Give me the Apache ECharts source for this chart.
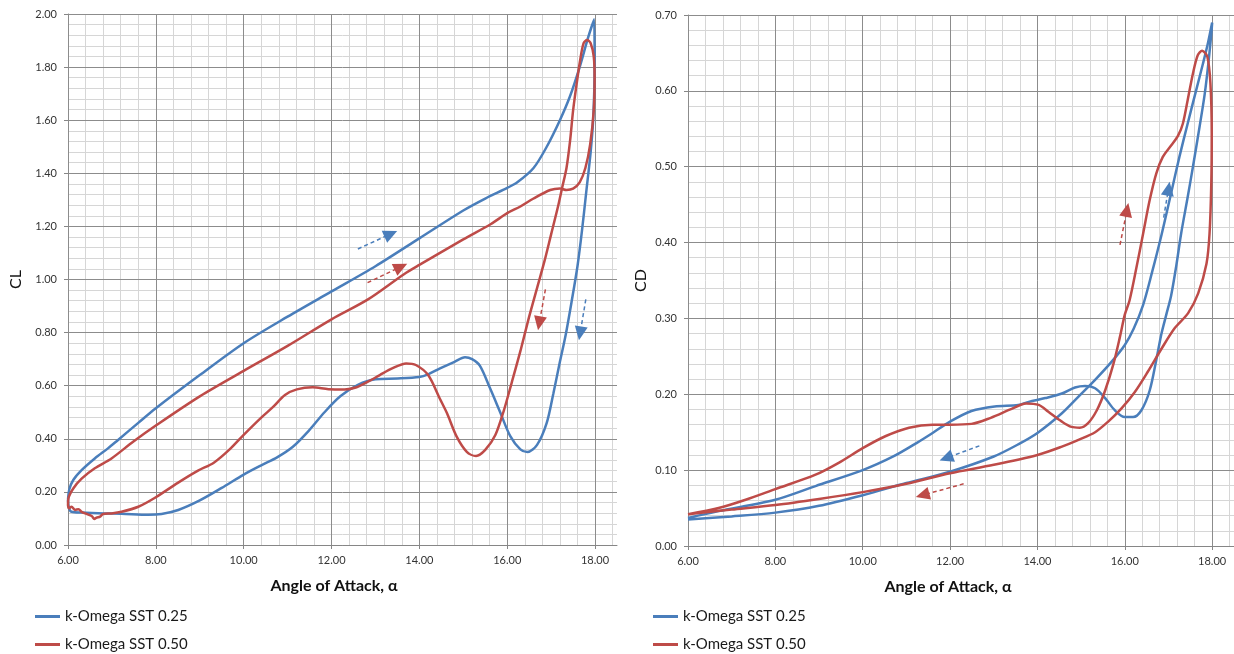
<!DOCTYPE html>
<html><head><meta charset="utf-8">
<script src="https://cdn.jsdelivr.net/npm/echarts@6/dist/echarts.min.js"></script>
<style>html,body{margin:0;padding:0;background:#fff}#c{width:1234px;height:654px}</style>
</head><body><div id="c"></div>
<script>
const seriesNames = ['k-Omega SST 0.25', 'k-Omega SST 0.50'];

// CL loops (angle of attack, CL)
const clSST025 = [[6.0,0.17],[6.03,0.21],[6.12,0.245],[6.31,0.282],[6.61,0.326],[6.91,0.364],[7.1,0.39],[7.6,0.46],[8.0,0.515],[9.0,0.64],[10.0,0.76],[11.0,0.86],[12.0,0.955],[13.0,1.05],[14.0,1.155],[15.0,1.26],[15.5,1.305],[16.0,1.345],[16.23,1.366],[16.6,1.42],[16.9,1.50],[17.2,1.60],[17.43,1.69],[17.65,1.80],[17.84,1.91],[17.98,1.98],
  [17.99,1.80],[17.96,1.61],[17.9,1.48],[17.8,1.33],[17.7,1.18],[17.6,1.05],[17.47,0.92],[17.33,0.79],[17.2,0.69],[17.05,0.57],[16.9,0.46],[16.68,0.377],[16.46,0.35],[16.3,0.36],[16.07,0.41],[15.84,0.50],[15.61,0.59],[15.38,0.675],[15.2,0.70],[15.04,0.707],[14.8,0.69],[14.47,0.665],[14.2,0.643],[14.0,0.633],[13.5,0.627],[13.0,0.624],[12.6,0.603],[12.2,0.56],[11.84,0.50],[11.48,0.43],[11.12,0.37],[10.76,0.33],[10.4,0.30],[10.0,0.265],[9.5,0.215],[9.0,0.168],[8.51,0.132],[8.13,0.117],[7.83,0.114],[7.22,0.118],[6.84,0.119],[6.31,0.122],[6.08,0.125],[6.02,0.14],[6.0,0.17]];
const clSST050 = [[6.0,0.15],[6.01,0.176],[6.12,0.213],[6.31,0.25],[6.61,0.289],[6.99,0.326],[7.49,0.39],[8.0,0.45],[9.0,0.56],[10.0,0.656],[11.0,0.75],[12.0,0.85],[12.83,0.925],[13.65,1.02],[14.0,1.055],[15.0,1.151],[15.63,1.209],[16.0,1.25],[16.3,1.275],[16.6,1.305],[16.98,1.337],[17.2,1.343],[17.35,1.337],[17.5,1.342],[17.65,1.366],[17.78,1.42],[17.89,1.51],[17.97,1.636],[17.99,1.76],[17.97,1.84],[17.9,1.89],[17.82,1.902],[17.74,1.89],[17.66,1.825],[17.58,1.736],[17.5,1.636],[17.43,1.52],[17.35,1.42],[17.25,1.345],[17.15,1.27],[17.0,1.17],[16.85,1.07],[16.7,0.98],[16.5,0.86],[16.3,0.73],[16.1,0.61],[15.93,0.51],[15.73,0.414],[15.5,0.358],[15.29,0.335],[15.08,0.351],[14.85,0.408],[14.63,0.496],[14.47,0.55],[14.2,0.64],[13.92,0.678],[13.7,0.684],[13.38,0.665],[13.1,0.64],[12.83,0.615],[12.57,0.594],[12.3,0.586],[11.93,0.587],[11.57,0.594],[11.21,0.586],[10.94,0.565],[10.67,0.52],[10.4,0.48],[10.0,0.415],[9.68,0.36],[9.32,0.31],[8.96,0.28],[8.5,0.234],[8.0,0.18],[7.6,0.144],[7.22,0.125],[6.99,0.119],[6.8,0.117],[6.73,0.107],[6.65,0.103],[6.6,0.098],[6.54,0.109],[6.42,0.117],[6.31,0.125],[6.24,0.135],[6.16,0.132],[6.08,0.144],[6.02,0.138],[6.0,0.15]];

// CD loops (angle of attack, CD)
const cdSST025 = [[6.0,0.035],[7.0,0.039],[8.0,0.044],[9.0,0.053],[10.0,0.067],[11.0,0.083],[12.0,0.098],[13.0,0.118],[13.56,0.134],[14.0,0.149],[14.56,0.175],[14.94,0.197],[15.32,0.219],[15.7,0.243],[16.0,0.265],[16.2,0.286],[16.42,0.318],[16.62,0.36],[16.84,0.41],[17.06,0.465],[17.25,0.513],[17.44,0.557],[17.63,0.60],[17.79,0.636],[17.9,0.662],[18.0,0.69],
  [17.98,0.675],[17.92,0.64],[17.83,0.596],[17.71,0.552],[17.56,0.50],[17.44,0.46],[17.29,0.412],[17.18,0.37],[17.06,0.33],[16.95,0.305],[16.84,0.28],[16.72,0.245],[16.57,0.205],[16.38,0.179],[16.19,0.17],[16.0,0.17],[15.77,0.179],[15.55,0.195],[15.32,0.208],[15.09,0.211],[14.86,0.209],[14.56,0.201],[14.18,0.195],[13.8,0.19],[13.56,0.186],[13.02,0.184],[12.49,0.178],[12.0,0.164],[11.6,0.149],[11.24,0.136],[10.7,0.118],[10.0,0.10],[8.92,0.079],[8.0,0.061],[6.7,0.046],[6.0,0.037]];
const cdSST050 = [[6.0,0.042],[7.0,0.048],[8.0,0.054],[9.0,0.062],[10.0,0.071],[11.0,0.082],[12.0,0.096],[13.0,0.107],[14.0,0.12],[14.56,0.131],[14.94,0.14],[15.32,0.15],[15.62,0.164],[15.92,0.181],[16.23,0.203],[16.53,0.23],[16.84,0.26],[17.14,0.287],[17.45,0.307],[17.68,0.333],[17.87,0.372],[17.94,0.412],[17.98,0.478],[17.99,0.544],[17.96,0.61],[17.89,0.645],[17.77,0.653],[17.67,0.647],[17.56,0.623],[17.44,0.588],[17.33,0.557],[17.22,0.541],[17.06,0.528],[16.87,0.513],[16.72,0.491],[16.57,0.456],[16.42,0.412],[16.27,0.368],[16.11,0.324],[16.0,0.305],[15.89,0.276],[15.74,0.24],[15.55,0.205],[15.36,0.179],[15.16,0.162],[14.97,0.156],[14.78,0.157],[14.56,0.164],[14.25,0.177],[14.03,0.186],[13.74,0.188],[13.38,0.18],[12.93,0.169],[12.49,0.161],[12.0,0.16],[11.6,0.16],[11.06,0.156],[10.53,0.145],[10.0,0.129],[9.46,0.11],[8.92,0.094],[8.0,0.075],[7.32,0.061],[6.7,0.05],[6.0,0.042]];

// direction arrows: [from, to] in data coordinates
const arrowsCL025 = [[[12.6,1.115],[13.35,1.172]], [[17.79,0.925],[17.66,0.797]]];
const arrowsCL050 = [[[12.82,0.988],[13.58,1.048]], [[16.87,0.963],[16.73,0.835]]];
const arrowsCD025 = [[[16.89,0.433],[17.0,0.471]], [[12.67,0.132],[11.91,0.116]]];
const arrowsCD050 = [[[15.89,0.397],[16.05,0.443]], [[12.31,0.082],[11.37,0.067]]];

const xTitle = 'Angle of Attack, α';
const yTitles = ['CL', 'CD'];

const BLUE = '#4a7ebb', RED = '#be4b48';
const MAJOR = '#8c8c8c', MINOR = '#d6d6d6', AXIS = '#868686';
const FONT = 'Lato';

function xAxes(gridIndex, padRight) {
  return [{
    gridIndex, type: 'value', min: 6, max: 18.5, interval: 2, z: 3,
    axisLine: { show: true, onZero: false, lineStyle: { color: AXIS, width: 1 } },
    axisTick: { show: true, length: 4, lineStyle: { color: AXIS } },
    axisLabel: { showMaxLabel: false, formatter: v => (v % 2 === 0 ? v.toFixed(2) : ''), color: '#333', fontFamily: FONT, fontSize: 11, margin: 10 },
    splitLine: { show: true, showMaxLine: false, lineStyle: { color: MAJOR, width: 1 } },
    name: xTitle, nameLocation: 'middle', nameGap: 33,
    nameTextStyle: { fontFamily: FONT, fontWeight: 'bold', fontSize: 16, color: '#111', padding: [0, padRight, 0, 0] }
  }, {
    gridIndex, type: 'value', min: 6, max: 18.5, interval: 0.4, z: 1, position: 'bottom',
    axisLine: { show: false }, axisTick: { show: false }, axisLabel: { show: false },
    splitLine: { show: true, showMaxLine: false, lineStyle: { color: MINOR, width: 1 } }
  }];
}
function yAxis(gridIndex, max, interval, name, gap) {
  return {
    gridIndex, type: 'value', min: 0, max, interval, z: 2,
    axisLine: { show: true, onZero: false, lineStyle: { color: AXIS, width: 1 } },
    axisTick: { show: true, length: 4, lineStyle: { color: AXIS } },
    axisLabel: { formatter: v => v.toFixed(2), color: '#333', fontFamily: FONT, fontSize: 11, margin: 11 },
    splitLine: { show: true, lineStyle: { color: MAJOR, width: 1 } },
    minorTick: { show: false, splitNumber: 5 },
    minorSplitLine: { show: true, lineStyle: { color: MINOR, width: 1 } },
    name, nameLocation: 'middle', nameGap: gap,
    nameTextStyle: { fontFamily: FONT, fontSize: 16, color: '#111' }
  };
}
function loop(name, data, color, xi, yi, arrows) {
  return {
    name, type: 'line', xAxisIndex: xi, yAxisIndex: yi, data,
    showSymbol: false, smooth: 0.3, z: 3,
    lineStyle: { color, width: 2.5 }, itemStyle: { color },
    emphasis: { disabled: true },
    markLine: {
      silent: true, animation: false, symbol: ['none', 'triangle'], symbolSize: [13, 14],
      label: { show: false }, emphasis: { disabled: true },
      lineStyle: { type: [4, 3], width: 1.5, color },
      data: arrows.map(a => [{ coord: a[0] }, { coord: a[1] }])
    }
  };
}
function legend(left) {
  return {
    left, top: 609, orient: 'vertical', icon: 'rect', itemWidth: 25, itemHeight: 3, itemGap: 13,
    padding: 0, height: 45,
    data: seriesNames, selectedMode: false,
    textStyle: { fontFamily: FONT, fontSize: 15, color: '#1a1a1a', lineHeight: 15 }
  };
}

const chart = echarts.init(document.getElementById('c'), null, { renderer: 'canvas' });
chart.setOption({
  animation: false,
  backgroundColor: '#fff',
  grid: [
    { left: 68, top: 14, width: 549, height: 531 },
    { left: 688, top: 15, width: 548, height: 531 }
  ],
  xAxis: [...xAxes(0, 17), ...xAxes(1, 26)],
  yAxis: [yAxis(0, 2, 0.2, yTitles[0], 44), yAxis(1, 0.7, 0.1, yTitles[1], 39)],
  legend: [legend(35), legend(653)],
  series: [
    loop(seriesNames[0], clSST025, BLUE, 0, 0, arrowsCL025),
    loop(seriesNames[1], clSST050, RED, 0, 0, arrowsCL050),
    loop(seriesNames[0], cdSST025, BLUE, 2, 1, arrowsCD025),
    loop(seriesNames[1], cdSST050, RED, 2, 1, arrowsCD050)
  ]
});
</script></body></html>
